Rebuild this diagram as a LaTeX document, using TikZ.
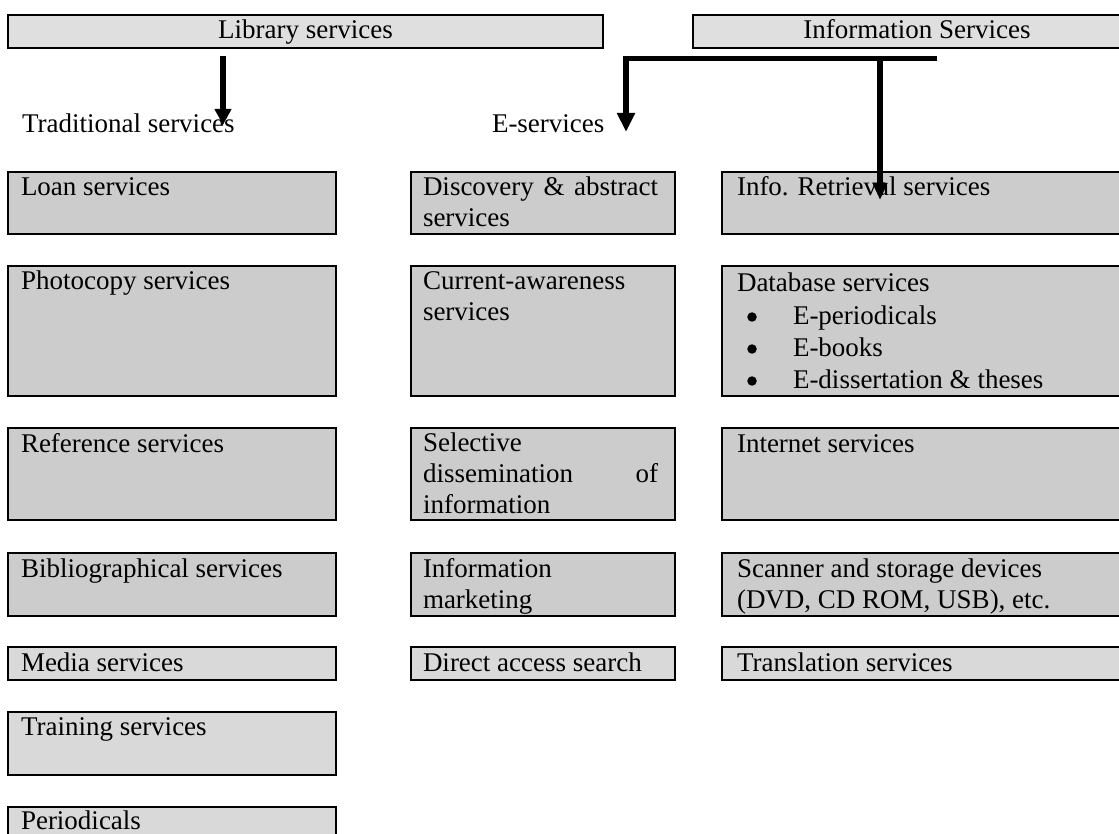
\documentclass[tikz,border=0pt]{standalone}
\usepackage{fontspec}
\setmainfont{Liberation Serif}
\usetikzlibrary{arrows.meta,calc}
\definecolor{boxdark}{HTML}{CCCCCC}
\definecolor{boxlight}{HTML}{D9D9D9}
\definecolor{boxtop}{HTML}{DFDFDF}
\begin{document}
\begin{tikzpicture}[x=1pt,y=-1pt,
  box/.style={draw=black, line width=2.4pt, fill=boxdark, inner sep=0pt, outer sep=0pt, anchor=north west},
  lightbox/.style={box, fill=boxlight},
  topbox/.style={box, fill=boxtop},
  txt/.style={inner sep=0pt, outer sep=0pt, anchor=base west, font=\fontsize{27}{31}\selectfont},
  mtxt/.style={txt, text width=#1, align=flush left},
  bul/.style={circle, fill=black, inner sep=0pt, minimum size=9.5pt},
]
\path[use as bounding box, clip] (0,0) rectangle (1119,834);

% top boxes
\node[topbox, minimum width=595pt, minimum height=33pt] (lib) at (8,15) {};
\node[txt, anchor=base] (libt) at (305.5,39) {Library services};
\node[topbox, minimum width=448pt, minimum height=33pt] (info) at (693,15) {};
\node[txt, anchor=base] (infot) at (917,39) {Information Services};

% group labels
\node[txt] (trad) at (22,133) {Traditional services};
\node[txt] (eserv) at (492,133) {E-services};

% column 1
\node[box, minimum width=328pt, minimum height=62pt] (loan) at (8,172) {};
\node[box, minimum width=328pt, minimum height=130pt] (photo) at (8,266) {};
\node[box, minimum width=328pt, minimum height=92pt] (ref) at (8,428) {};
\node[box, minimum width=328pt, minimum height=63pt] (bib) at (8,553) {};
\node[lightbox, minimum width=328pt, minimum height=33pt] (media) at (8,647) {};
\node[lightbox, minimum width=328pt, minimum height=63pt] (train) at (8,712) {};
\node[lightbox, minimum width=328pt, minimum height=60pt] (peri) at (8,807) {};

\node[txt] (loant) at ($(loan.north west)+(13,24)$) {Loan services};
\node[txt] (photot) at ($(photo.north west)+(13,24)$) {Photocopy services};
\node[txt] (reft) at ($(ref.north west)+(13,24)$) {Reference services};
\node[txt] (bibt) at ($(bib.north west)+(13,24)$) {Bibliographical services};
\node[txt] (mediat) at ($(media.north west)+(13,24)$) {Media services};
\node[txt] (traint) at ($(train.north west)+(13,23.5)$) {Training services};
\node[txt] (perit) at ($(peri.north west)+(13,22.5)$) {Periodicals};

% column 2
\node[box, minimum width=264pt, minimum height=62pt] (disc) at (411,172) {};
\node[box, minimum width=264pt, minimum height=130pt] (curr) at (411,266) {};
\node[box, minimum width=264pt, minimum height=92pt] (sdi) at (411,428) {};
\node[box, minimum width=264pt, minimum height=63pt] (mkt) at (411,553) {};
\node[lightbox, minimum width=264pt, minimum height=33pt] (direct) at (411,647) {};

\node[mtxt=235pt] (disct) at ($(disc.north west)+(12,24)$) {\makebox[235pt][l]{Discovery\hfill\&\hfill abstract}\\services};
\node[mtxt=235pt] (currt) at ($(curr.north west)+(12,24)$) {Current-awareness\\services};
\node[mtxt=235pt] (sdit) at ($(sdi.north west)+(12,23)$) {Selective\\\makebox[235pt][l]{dissemination\hfill of}\\information};
\node[mtxt=235pt] (mktt) at ($(mkt.north west)+(12,24)$) {Information\\marketing};
\node[txt] (directt) at ($(direct.north west)+(12,24.5)$) {Direct access search};

% column 3
\node[box, minimum width=419pt, minimum height=62pt] (ir) at (722,172) {};
\node[box, minimum width=419pt, minimum height=130pt] (db) at (722,266) {};
\node[box, minimum width=419pt, minimum height=92pt] (inet) at (722,428) {};
\node[box, minimum width=419pt, minimum height=63pt] (scan) at (722,553) {};
\node[lightbox, minimum width=419pt, minimum height=33pt] (trans) at (722,647) {};

\node[txt] (irt) at ($(ir.north west)+(15,24)$) {Info. Retrieval services};
\node[txt] (dbt) at ($(db.north west)+(15,25)$) {Database services};
\node[bul] (b1) at (752,317) {};
\node[txt] (dbi1) at (793,324) {E-periodicals};
\node[bul] (b2) at (752,349) {};
\node[txt] (dbi2) at (793,356) {E-books};
\node[bul] (b3) at (752,381) {};
\node[txt] (dbi3) at (793,388) {E-dissertation \& theses};
\node[txt] (inett) at ($(inet.north west)+(15,24)$) {Internet services};
\node[mtxt=390pt] (scant) at ($(scan.north west)+(15,24)$) {Scanner and storage devices\\(DVD, CD ROM, USB), etc.};
\node[txt] (transt) at ($(trans.north west)+(15,24.5)$) {Translation services};

% connectors
\coordinate (libA) at (223,56);
\coordinate (libB) at (223,125);
\draw[line width=6.5pt, -{Triangle[width=16pt,length=16pt]}] (libA) -- (libB);

\coordinate (hR) at (937,59);
\coordinate (hL) at (622.75,59);
\draw[line width=5pt] (hR) -- (hL);
\coordinate (eA) at (626,56.5);
\coordinate (eB) at (626,132);
\draw[line width=6.5pt, -{Triangle[width=17pt,length=19pt]}] (eA) -- (eB);
\coordinate (iA) at (880,59);
\coordinate (iB) at (880,200);
\draw[line width=6.5pt, -{Triangle[width=14pt,length=17pt]}] (iA) -- (iB);
\end{tikzpicture}
\end{document}
